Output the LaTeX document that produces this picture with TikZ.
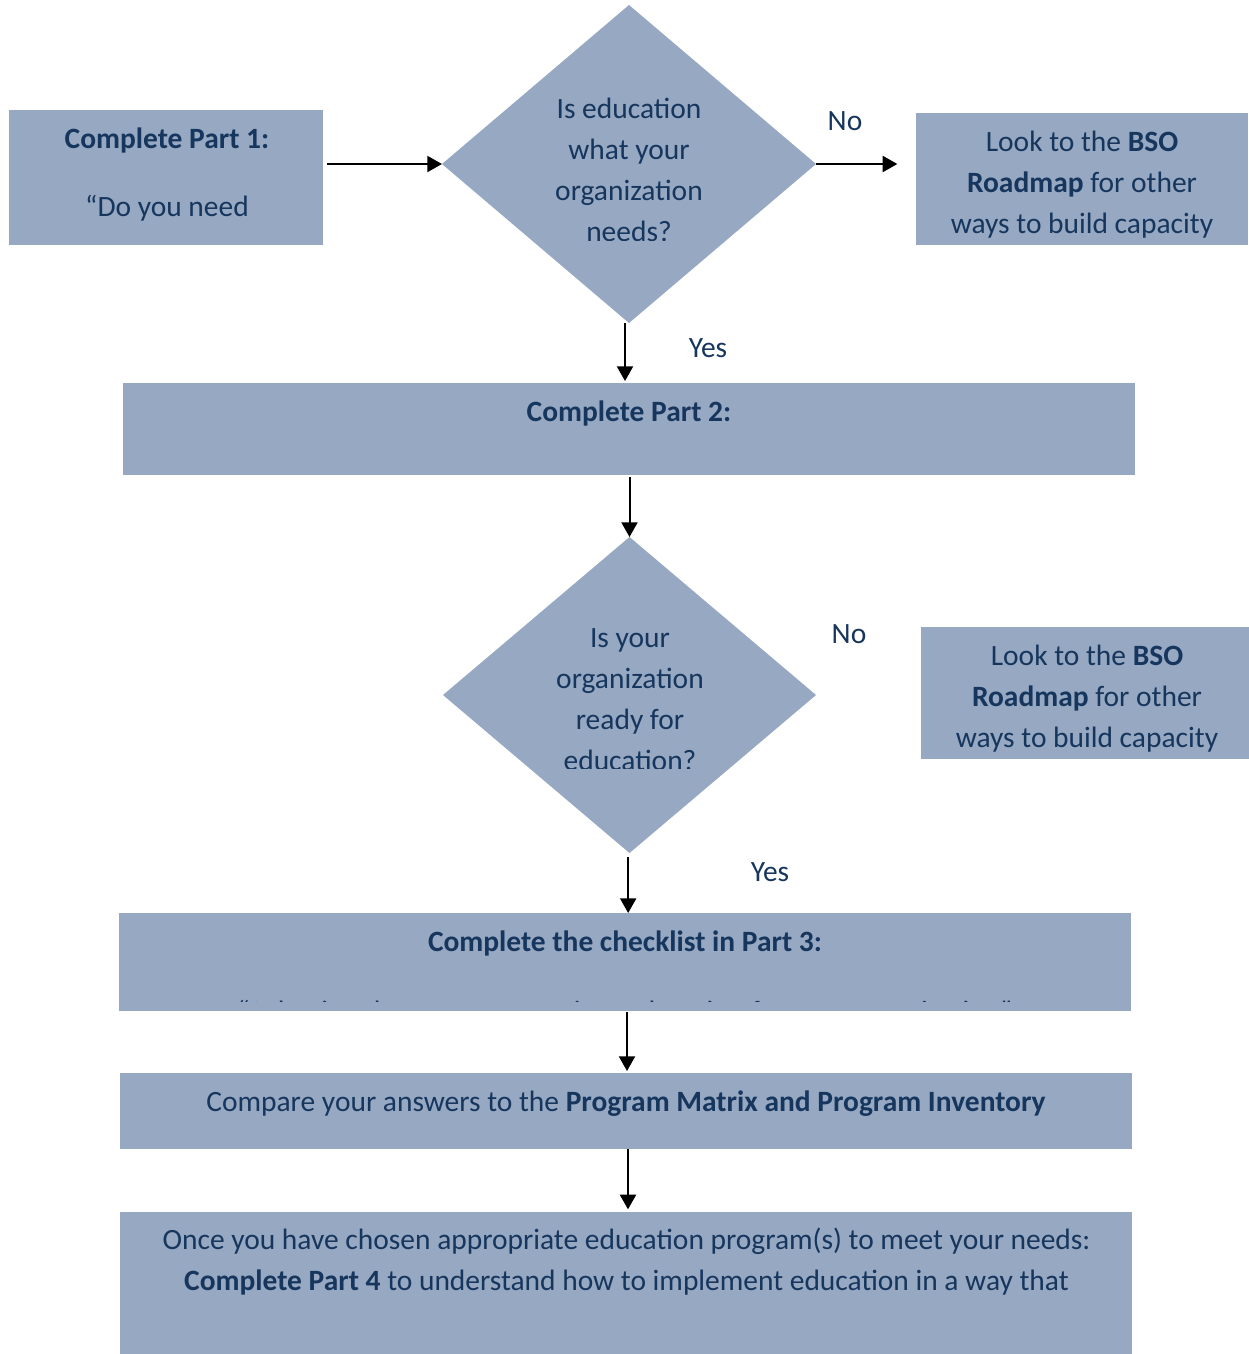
\documentclass[tikz,border=0pt]{standalone}
\usepackage{fontspec}
\setmainfont{Carlito}
\usetikzlibrary{shapes.geometric,arrows.meta,fit}
\definecolor{boxfill}{RGB}{150,168,194}
\definecolor{navy}{RGB}{23,54,93}

\begin{document}
\begin{tikzpicture}[x=0.75pt,y=-0.75pt,
  panel/.style={fill=boxfill,draw=none,inner sep=0pt,outer sep=0pt},
  rectpanel/.style={panel,rectangle},
  decision/.style={panel,diamond,shape aspect=1},
  txt/.style={text=navy,align=center,inner sep=0pt,anchor=base,
    font={\fontsize{22.1pt}{30.75pt}\selectfont}},
  flow/.style={draw=black,line width=1.5pt,-{Triangle[length=11pt,width=12pt]}}]

\useasboundingbox (0,0) rectangle (1249,1354);

% --- shapes ---
\node[rectpanel,fit={(9,110) (323,245)}] (p1) {};
\node[decision,minimum width=280.5pt,minimum height=238.5pt] (d1) at (629,164) {};
\node[rectpanel,fit={(916,113) (1248,245)}] (r1) {};
\node[rectpanel,fit={(123,383) (1135,475)}] (p2) {};
\node[decision,minimum width=279.75pt,minimum height=237pt] (d2) at (629.5,695) {};
\node[rectpanel,fit={(921,627) (1249,759)}] (r2) {};
\node[rectpanel,fit={(119,913) (1131,1011)}] (p3) {};
\node[rectpanel,fit={(120,1073) (1132,1149)}] (cmp) {};
\node[rectpanel,fit={(120,1212) (1132,1354)}] (p4) {};

% --- texts (anchored at the baseline of their last line), cut off by their frames ---
\begin{scope}
  \clip (p1.south west) rectangle (p1.north east);
  \node[txt] (t1) at (167,216) {\textbf{Complete Part 1:}\\[20.25pt]“Do you need};
\end{scope}
\begin{scope}
  \clip (d1.north) -- (d1.east) -- (d1.south) -- (d1.west) -- cycle;
  \clip (0,0) rectangle (1249,240);
  \node[txt] (td1) at (629,241) {Is education\\what your\\organization\\needs?};
\end{scope}
\begin{scope}
  \clip (r1.south west) rectangle (r1.north east);
  \node[txt] (tr1) at (1082,233) {Look to the \textbf{BSO}\\\textbf{Roadmap} for other\\ways to build capacity};
\end{scope}
\node[txt] (t2) at (629,421) {\textbf{Complete Part 2:}};
\begin{scope}
  \clip (d2.north) -- (d2.east) -- (d2.south) -- (d2.west) -- cycle;
  \clip (0,0) rectangle (1249,768);
  \node[txt] (td2) at (630,770) {Is your\\organization\\ready for\\education?};
\end{scope}
\begin{scope}
  \clip (r2.south west) rectangle (r2.north east);
  \node[txt] (tr2) at (1087,747) {Look to the \textbf{BSO}\\\textbf{Roadmap} for other\\ways to build capacity};
\end{scope}
\begin{scope}
  \clip (p3.north west) rectangle (1131,1001);
  \node[txt] (t3) at (625,1021) {\textbf{Complete the checklist in Part 3:}\\[21.75pt]“Selecting the most appropriate education for your organization”};
\end{scope}
\node[txt] (tc) at (626,1111) {Compare your answers to the \textbf{Program Matrix and Program Inventory}};
\node[txt] (t4) at (626.5,1290) {Once you have chosen appropriate education program(s) to meet your needs:\\\textbf{Complete Part 4} to understand how to implement education in a way that};

% --- branch labels ---
\node[txt] (no1) at (845,130) {No};
\node[txt] (yes1) at (708,357) {Yes};
\node[txt] (no2) at (849,643) {No};
\node[txt] (yes2) at (770,881) {Yes};

% --- connectors ---
\draw[flow,shorten <=3pt] (p1.east |- d1.west) -- (d1.west);
\draw[flow,shorten >=14pt] (d1.east) -- (d1.east -| r1.west);
\draw[flow,shorten >=1.5pt] ([xshift=-3pt]d1.south) -- ([xshift=-3pt]d1.south |- p2.north);
\draw[flow,shorten <=1.5pt] (d2.north |- p2.south) -- (d2.north);
\draw[flow,shorten <=3pt] ([xshift=-1pt]d2.south) -- ([xshift=-1pt]d2.south |- p3.north);
\draw[flow,shorten <=1pt,shorten >=1.5pt] ([xshift=1.5pt]p3.south) -- ([xshift=1.5pt]p3.south |- cmp.north);
\draw[flow,shorten >=2pt] ([xshift=1.5pt]cmp.south) -- ([xshift=1.5pt]cmp.south |- p4.north);
\end{tikzpicture}
\end{document}
